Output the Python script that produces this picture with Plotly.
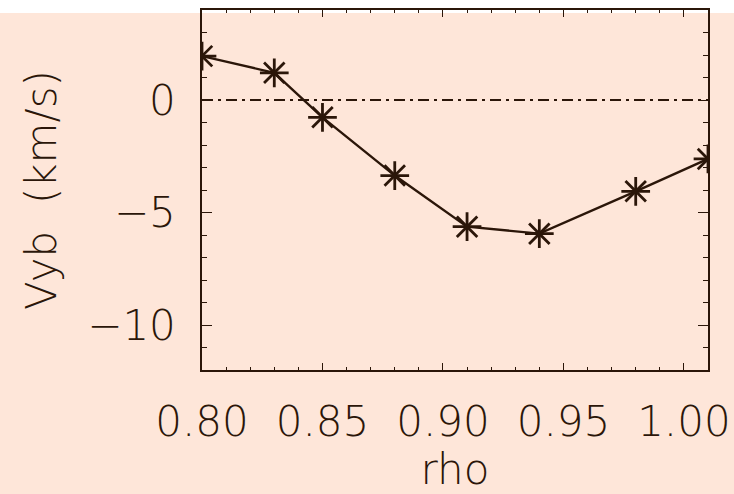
import plotly.graph_objects as go

rho = [0.80, 0.83, 0.85, 0.88, 0.91, 0.94, 0.98, 1.01]
vyb = [1.95, 1.21, -0.77, -3.36, -5.63, -5.94, -4.06, -2.62]
x_ticks = [0.80, 0.85, 0.90, 0.95, 1.00]
x_ticklabels = ["0.80", "0.85", "0.90", "0.95", "1.00"]
y_ticks = [-10, -5, 0]
zero_x = [0.80, 1.01]
zero_y = [0, 0]

PEACH = "#fee6d9"
INK = "#2b1609"
FONT = dict(family="DejaVu Sans", size=42, color=INK, weight=200)

fig = go.Figure()
fig.add_trace(go.Scatter(
    x=zero_x, y=zero_y, mode="lines",
    line=dict(color=INK, width=2, dash="11px,5px,3px,5px"),
    hoverinfo="skip", showlegend=False))
fig.add_trace(go.Scatter(
    x=rho, y=vyb, mode="lines",
    line=dict(color=INK, width=2.4),
    cliponaxis=True, showlegend=False))
for sym in ["cross-thin-open", "x-thin-open"]:
    fig.add_trace(go.Scatter(
        x=rho, y=vyb, mode="markers",
        marker=dict(symbol=sym, size=20.5, color=INK,
                    line=dict(color=INK, width=2.8)),
        cliponaxis=True, showlegend=False))

axis_common = dict(
    showline=True, linecolor=INK, linewidth=1.5, mirror="ticks",
    ticks="inside", tickcolor=INK, tickwidth=1.3,
    showgrid=False, zeroline=False, tickfont=FONT, automargin=False,
)
fig.update_xaxes(
    range=[0.80, 1.01], tickvals=x_ticks, ticktext=x_ticklabels, ticklen=7,
    minor=dict(dtick=0.01, tick0=0.8, ticks="inside", ticklen=3.5, tickcolor=INK, tickwidth=1.2),
    title=dict(text="rho", font=FONT, standoff=12),
    ticklabelstandoff=14,
    **axis_common)
fig.update_yaxes(
    range=[-12, 4], tickvals=y_ticks, ticklen=10,
    minor=dict(dtick=1, tick0=0, ticks="inside", ticklen=5, tickcolor=INK, tickwidth=1.2),
    title=dict(text="Vyb  (km/s)", font=FONT, standoff=18),
    ticklabelstandoff=16,
    **axis_common)

fig.add_shape(type="rect", xref="paper", yref="paper",
              x0=-0.5, x1=1.5, y0=1 - 3 / 360, y1=1.2,
              fillcolor="white", line=dict(width=0), layer="below")

fig.update_layout(
    width=734, height=494,
    margin=dict(l=202, r=26, t=10, b=124),
    paper_bgcolor=PEACH, plot_bgcolor=PEACH,
    font=FONT,
)
fig.write_html("out.html")
